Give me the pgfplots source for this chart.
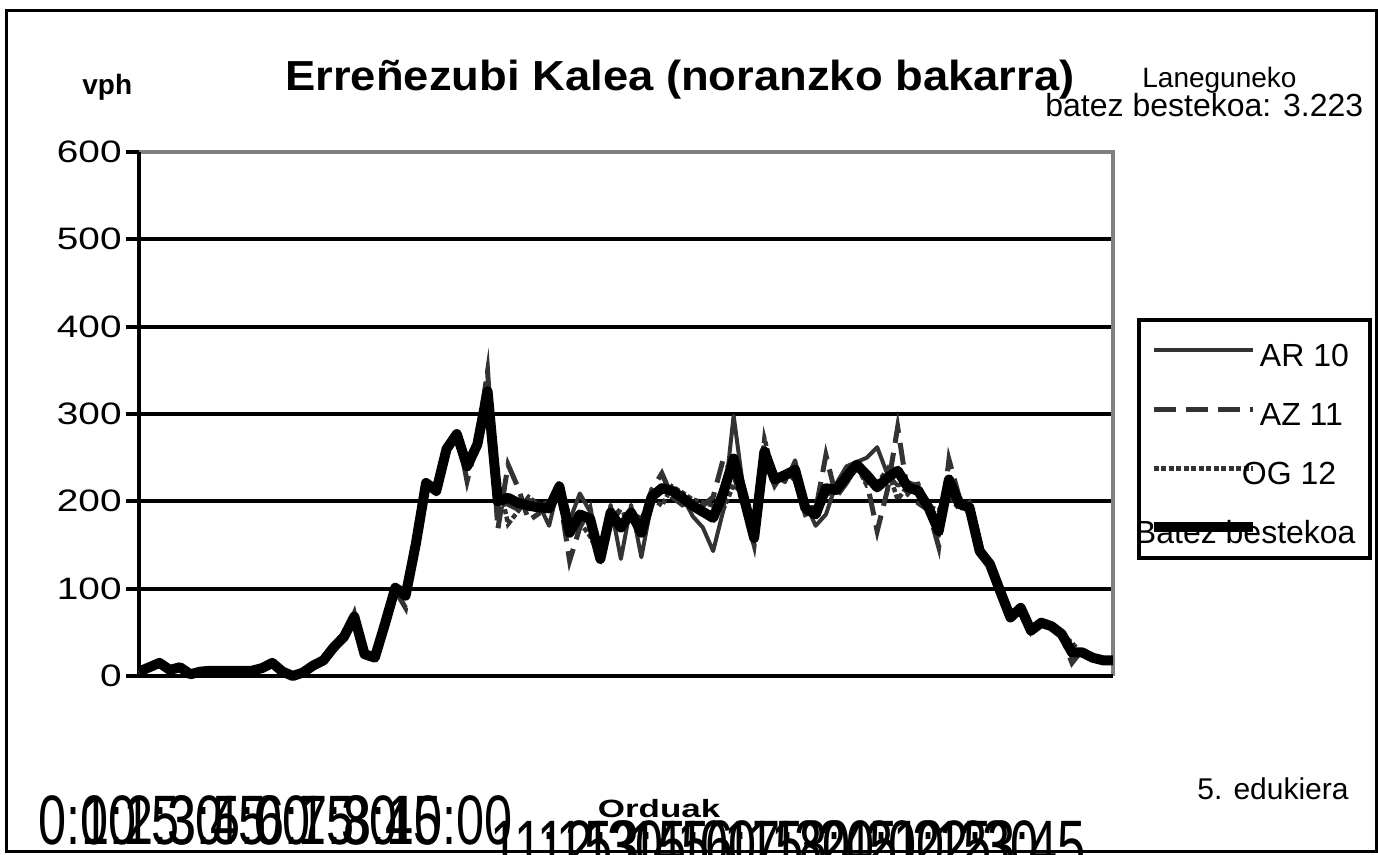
\documentclass[border=0pt]{standalone}
\usepackage{pgfplots}
\usepackage{pgfplotstable}
\pgfplotsset{compat=1.18}
\usepackage{fontspec}
\setmainfont{Liberation Sans}
\usepackage{graphicx}
\definecolor{gridgray}{RGB}{128,128,128}
\definecolor{dk}{RGB}{51,51,51}
\newcommand{\xla}[2]{\makebox[0pt][l]{\hspace*{#1}\scalebox{0.72}[1]{#2}}}
\newcommand{\xlb}[2]{\makebox[0pt][l]{\hspace*{#1}\raisebox{-12.5pt}{\scalebox{0.72}[1]{#2}}}}

\pgfplotstableread{
i A AR AZ OG
0 5 4 8 3
1 10 12 9 9
2 15 13 17 15
3 7 8 6 7
4 10 9 11 10
5 2 3 1 2
6 5 5 6 4
7 6 6 5 7
8 6 5 7 6
9 6 7 6 5
10 6 6 5 7
11 6 7 6 5
12 9 8 10 9
13 15 16 14 15
14 5 6 4 5
15 0 1 0 0
16 4 3 5 4
17 12 11 13 12
18 18 17 20 17
19 33 31 35 33
20 45 47 44 44
21 68 64 72 68
22 25 27 23 25
23 21 20 22 21
24 60 62 58 60
25 101 104 98 101
26 92 98 78 100
27 151 148 156 149
28 221 224 218 221
29 212 208 215 213
30 260 262 255 263
31 277 272 283 276
32 240 246 223 251
33 265 258 270 267
34 326 318 349 311
35 200 205 168 227
36 204 196 242 174
37 198 190 215 189
38 195 202 178 205
39 193 197 186 196
40 192 172 205 199
41 217 221 208 222
42 164 178 132 182
43 185 209 170 176
44 180 188 192 160
45 134 139 128 135
46 187 196 174 191
47 170 134 192 184
48 187 196 178 187
49 164 136 176 180
50 205 198 213 204
51 215 218 232 195
52 212 214 205 217
53 204 206 196 210
54 195 183 200 202
55 188 170 195 199
56 181 143 205 195
57 210 190 249 191
58 249 298 230 219
59 204 210 195 207
60 158 165 150 159
61 257 250 249 272
62 225 230 218 227
63 230 222 236 232
64 236 247 224 237
65 192 198 185 193
66 185 172 190 193
67 215 185 253 207
68 213 220 205 214
69 228 240 221 223
70 242 245 240 241
71 230 250 222 218
72 216 262 166 220
73 227 231 213 237
74 235 218 285 202
75 216 222 208 218
76 212 218 198 220
77 193 195 190 194
78 166 160 148 190
79 225 220 248 207
80 197 195 205 191
81 193 195 185 199
82 143 140 146 143
83 128 130 126 128
84 97 100 95 96
85 67 70 64 67
86 78 80 76 78
87 52 54 50 52
88 61 60 63 60
89 57 58 55 58
90 48 50 46 48
91 27 28 15 38
92 27 26 30 25
93 21 22 20 21
94 18 19 17 18
95 18 17 19 18
}\data

\begin{document}
\begin{tikzpicture}
\begin{axis}[
  scale only axis,
  width=487pt, height=262pt,
  xmin=0, xmax=95, ymin=0, ymax=600,
  clip=false,
  no markers,
  axis line style={draw=none},
  tick align=outside,
  ytick={0,100,...,600},
  yticklabels={{\scalebox{1.25}[1]{0}},{\scalebox{1.25}[1]{100}},{\scalebox{1.25}[1]{200}},{\scalebox{1.25}[1]{300}},{\scalebox{1.25}[1]{400}},{\scalebox{1.25}[1]{500}},{\scalebox{1.25}[1]{600}}},
  ytick pos=left,
  major tick length=6.5pt,
  ytick style={black, line width=2pt},
  yticklabel style={font=\fontsize{15.5pt}{18pt}\selectfont, inner sep=0pt, xshift=-2pt},
  ymajorgrids,
  grid style={black, line width=2pt},
  xtick={0,5,...,95},
  xtick pos=bottom,
  xtick style={draw=none},
  xticklabels={{\xla{-50.5pt}{0:00}},{\xla{-54.3pt}{1:15}},{\xla{-58.2pt}{2:30}},{\xla{-62pt}{3:45}},{\xla{-65.8pt}{5:00}},{\xla{-69.6pt}{6:15}},{\xla{-73.5pt}{7:30}},{\xla{-77.3pt}{8:45}},{\xla{-81.1pt}{10:00}},
    {\xlb{-55.1pt}{11:15}},{\xlb{-57.3pt}{12:30}},{\xlb{-59.5pt}{13:45}},{\xlb{-61.7pt}{15:00}},{\xlb{-63.8pt}{16:15}},{\xlb{-66pt}{17:30}},{\xlb{-68.2pt}{18:45}},{\xlb{-70.4pt}{20:00}},{\xlb{-72.5pt}{21:15}},{\xlb{-74.7pt}{22:30}},{\xlb{-76.9pt}{23:45}}},
  xticklabel style={font=\fontsize{35pt}{40pt}\selectfont, anchor=base, inner sep=0pt, yshift=-78pt},
  xlabel={\scalebox{1.4}[1]{Orduak}},
  xlabel style={at={(rel axis cs:0.534,-0.271)}, anchor=base, inner sep=0pt, font=\bfseries\fontsize{12.5pt}{15pt}\selectfont},
  ylabel={vph},
  ylabel style={at={(rel axis cs:-0.0585,1.109)}, anchor=base west, rotate=-90, inner sep=0pt, font=\bfseries\fontsize{14pt}{17pt}\selectfont},
  title={\scalebox{1.08}[1]{Erreñezubi Kalea (noranzko bakarra)}},
  title style={at={(rel axis cs:0.5554,1.094)}, anchor=base, inner sep=0pt, font=\bfseries\fontsize{21pt}{25pt}\selectfont},
  legend cell align=left,
  legend image code/.code={\path[draw=none,fill=none] (0pt,-1pt) rectangle (57pt,1pt); \draw[#1, overlay] (7.5pt,0pt) -- (57pt,0pt);},
  legend style={at={(rel axis cs:1.02464,0.68321)}, anchor=north west, draw=black, line width=2pt, fill=white,
    inner xsep=0pt, inner ysep=3.5pt, row sep=6pt, /tikz/column sep=3.5pt,
    font=\fontsize{16pt}{19pt}\selectfont,
    nodes={inner sep=0pt, text height=20pt, text depth=3.5pt}},
]
\draw[gridgray, line width=2pt] (rel axis cs:0,1) -- (rel axis cs:1,1) -- (rel axis cs:1,0);
\draw[black, line width=2pt] (rel axis cs:0,1) -- (rel axis cs:0,0) -- (rel axis cs:1,0);
\addplot[dk, line width=2pt, line join=round] table[x=i,y=AR]{\data};
\addlegendentry{AR 10}
\addplot[dk, line width=2.5pt, dash pattern=on 11pt off 5pt] table[x=i,y=AZ]{\data};
\addlegendentry{AZ 11}
\addplot[dk, line width=2.25pt, dash pattern=on 2.5pt off 1.25pt] table[x=i,y=OG]{\data};
\addlegendentry{\hspace*{-9pt}OG 12}
\addplot[black, line width=5pt, line join=round] table[x=i,y=A]{\data};
\addlegendentry{\hspace*{-62.5pt}Batez bestekoa\hspace*{7pt}}
\end{axis}
\draw[line width=1.5pt] (-66pt,-88pt) rectangle (618.5pt,332.5pt);
\node[anchor=base west, inner sep=0pt, font=\fontsize{14pt}{17pt}\selectfont] at (501.5pt,294pt) {Laneguneko};
\node[anchor=base west, inner sep=0pt, font=\fontsize{16pt}{19pt}\selectfont] at (453pt,279.5pt) {batez bestekoa: 3.223};
\node[anchor=base west, inner sep=0pt, font=\fontsize{15pt}{18pt}\selectfont] at (529pt,-62pt) {5. edukiera};
\pgfresetboundingbox
\path[use as bounding box] (-69.5pt,-89.5pt) rectangle (619.5pt,338pt);
\end{tikzpicture}
\end{document}
